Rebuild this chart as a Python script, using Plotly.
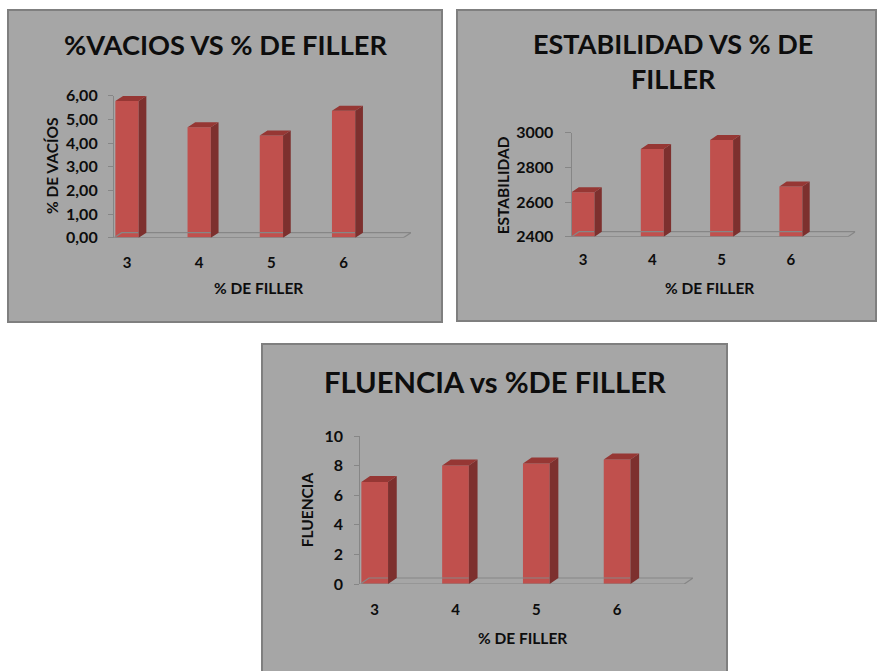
import plotly.graph_objects as go

W, H = 877, 671

# ---- data ----
filler = [3, 4, 5, 6]
vacios = [5.78, 4.67, 4.32, 5.36]
estabilidad = [2656, 2906, 2958, 2690]
fluencia = [6.89, 8.00, 8.15, 8.42]

vacios_ticks = [0, 1, 2, 3, 4, 5, 6]
estabilidad_ticks = [2400, 2600, 2800, 3000]
fluencia_ticks = [0, 2, 4, 6, 8, 10]

FONT = "Lato"
TXT = "#0d0d0d"
PANEL_FILL = "#a6a6a6"
PANEL_EDGE = "#7f7f7f"
AXIS_COL = "#868686"
FRONT = "#c0504d"
SIDE = "#7d302e"
TOP = "#963734"

# panel layout in pixels
panels = [
    dict(name="1", values=vacios, ticks=vacios_ticks, fmt=".2f",
         box=(8, 10, 442, 322), left=114.0, right=411.0, top=95.7, bottom=237.7,
         cat0=127.0, step=72.2, barw=23.3, ddx=7.7, ddy=5.0, ticklen=5, standoff=7,
         xstand=14,
         title="%VACIOS VS % DE FILLER", title_size=27.2, title_xy=(225.8, 44.2),
         ytitle="% DE VACÍOS", ytitle_xy=(51.3, 165.7),
         xtitle_xy=(258.8, 287.8)),
    dict(name="2", values=estabilidad, ticks=estabilidad_ticks, fmt="d",
         box=(457, 10, 876, 321), left=571.7, right=855.3, top=132.7, bottom=236.7,
         cat0=583.0, step=69.3, barw=23.0, ddx=7.3, ddy=5.0, ticklen=6, standoff=8,
         xstand=12,
         title="ESTABILIDAD VS % DE<br>FILLER", title_size=27.0, title_xy=(673.3, 61.0),
         ytitle="ESTABILIDAD", ytitle_xy=(503.0, 185.3),
         xtitle_xy=(709.0, 287.5)),
    dict(name="3", values=fluencia, ticks=fluencia_ticks, fmt="d",
         box=(262, 344, 727, 680), left=360.3, right=693.0, top=436.0, bottom=584.0,
         cat0=374.7, step=80.8, barw=26.7, ddx=8.7, ddy=6.0, ticklen=5, standoff=8,
         xstand=15,
         title="FLUENCIA vs %DE FILLER", title_size=29.2, title_xy=(495.0, 381.0),
         ytitle="FLUENCIA", ytitle_xy=(307.3, 510.0),
         xtitle_xy=(522.3, 638.3)),
]


def px(x):
    return x / W


def py(y):
    return 1 - y / H


fig = go.Figure()
shapes = []
annotations = []

for p in panels:
    n = p["name"]
    xa = "x" if n == "1" else "x" + n
    ya = "y" if n == "1" else "y" + n
    ymin, ymax = p["ticks"][0], p["ticks"][-1]

    # scales: pixels -> data units
    xmin = filler[0] - (p["cat0"] - p["left"]) / p["step"]
    xmax = filler[0] + (p["right"] - p["cat0"]) / p["step"]
    y_per_px = (ymax - ymin) / (p["bottom"] - p["top"])
    dx = p["ddx"] / p["step"]
    dy = p["ddy"] * y_per_px
    hw = p["barw"] / p["step"] / 2

    # panel background
    x0, y0, x1, y1 = p["box"]
    shapes.append(dict(type="rect", xref="paper", yref="paper",
                       x0=px(x0), x1=px(x1), y0=py(y1), y1=py(y0),
                       fillcolor=PANEL_FILL, line=dict(color=PANEL_EDGE, width=2),
                       layer="below"))

    # floor
    fx = [xmin, xmax - dx, xmax, xmin + dx, xmin]
    fy = [ymin, ymin, ymin + dy, ymin + dy, ymin]
    fig.add_trace(go.Scatter(x=fx, y=fy, xaxis=xa, yaxis=ya, mode="lines",
                             line=dict(color=AXIS_COL, width=1.2),
                             hoverinfo="skip", showlegend=False))

    # front faces
    fig.add_trace(go.Bar(x=filler, y=p["values"], xaxis=xa, yaxis=ya,
                         width=2 * hw, marker=dict(color=FRONT, line=dict(width=0)),
                         showlegend=False))

    # side and top faces
    sx, sy, tx, ty = [], [], [], []
    for c, v in zip(filler, p["values"]):
        r = c + hw
        l = c - hw
        sx += [r, r + dx, r + dx, r, r, None]
        sy += [ymin, ymin + dy, v + dy, v, ymin, None]
        tx += [l, l + dx, r + dx, r, l, None]
        ty += [v, v + dy, v + dy, v, v, None]
    fig.add_trace(go.Scatter(x=sx, y=sy, xaxis=xa, yaxis=ya, mode="lines",
                             fill="toself", fillcolor=SIDE, line=dict(width=0, color=SIDE),
                             hoverinfo="skip", showlegend=False))
    fig.add_trace(go.Scatter(x=tx, y=ty, xaxis=xa, yaxis=ya, mode="lines",
                             fill="toself", fillcolor=TOP, line=dict(width=0, color=TOP),
                             hoverinfo="skip", showlegend=False))

    xkey = "xaxis" if n == "1" else "xaxis" + n
    ykey = "yaxis" if n == "1" else "yaxis" + n
    fig.layout[xkey] = dict(domain=[px(p["left"]), px(p["right"])],
                            range=[xmin, xmax], anchor=ya, automargin=False,
                            tickvals=filler, ticktext=[str(c) for c in filler],
                            showgrid=False, zeroline=False, showline=False, ticks="",
                            ticklabelstandoff=p["xstand"],
                            tickfont=dict(family=FONT, size=15, color=TXT, weight="bold"),
                            fixedrange=True)
    fig.layout[ykey] = dict(domain=[py(p["bottom"]), py(p["top"])],
                            range=[ymin, ymax], anchor=xa, automargin=False,
                            tickvals=p["ticks"], tickformat=p["fmt"],
                            showgrid=False, zeroline=False, showline=True,
                            linecolor=AXIS_COL, linewidth=1.2,
                            ticks="outside", ticklen=p["ticklen"], tickcolor=AXIS_COL,
                            tickwidth=1.2, ticklabelstandoff=p["standoff"],
                            tickfont=dict(family=FONT, size=16, color=TXT, weight="bold"),
                            fixedrange=True)

    # titles
    annotations.append(dict(text=p["title"], xref="paper", yref="paper",
                            x=px(p["title_xy"][0]), y=py(p["title_xy"][1]),
                            xanchor="center", yanchor="middle", showarrow=False,
                            font=dict(family=FONT, size=p["title_size"], color=TXT,
                                      weight="bold")))
    annotations.append(dict(text=p["ytitle"], xref="paper", yref="paper",
                            x=px(p["ytitle_xy"][0]), y=py(p["ytitle_xy"][1]),
                            xanchor="center", yanchor="middle", textangle=-90,
                            showarrow=False,
                            font=dict(family=FONT, size=15.5, color=TXT, weight="bold")))
    annotations.append(dict(text="% DE FILLER", xref="paper", yref="paper",
                            x=px(p["xtitle_xy"][0]), y=py(p["xtitle_xy"][1]),
                            xanchor="center", yanchor="middle", showarrow=False,
                            font=dict(family=FONT, size=15.5, color=TXT, weight="bold")))

fig.update_layout(width=W, height=H, template="none",
                  margin=dict(l=0, r=0, t=0, b=0, pad=0, autoexpand=False),
                  paper_bgcolor="white", plot_bgcolor="rgba(0,0,0,0)",
                  separators=",.", barmode="overlay", hovermode=False,
                  shapes=shapes, annotations=annotations)

fig.write_html("out.html")
